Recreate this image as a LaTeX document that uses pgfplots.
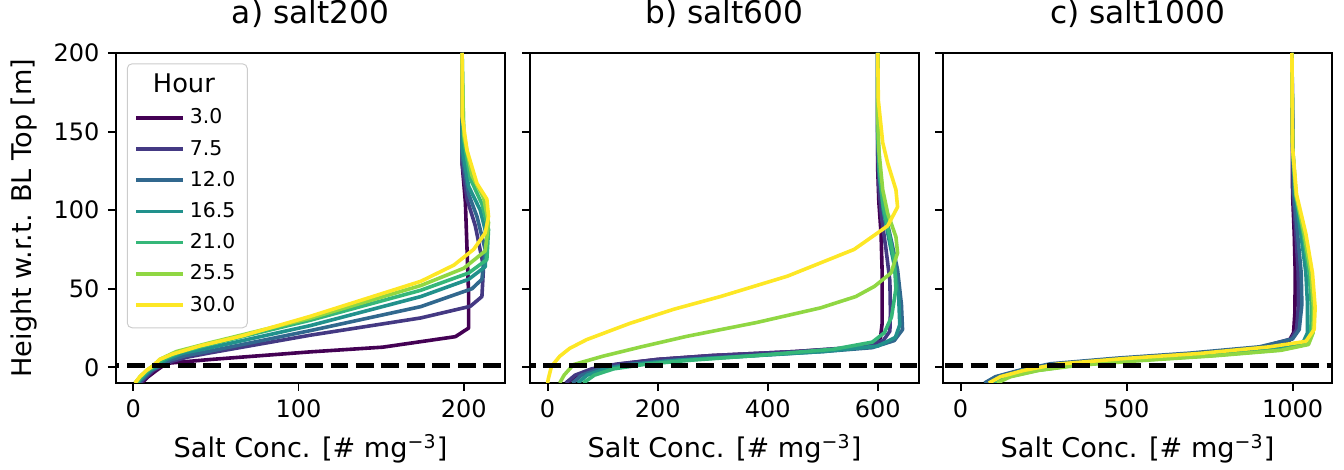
\documentclass[border=0pt]{standalone}
\usepackage{fontspec}
\setmainfont{DejaVu Sans}
\usepackage{pgfplots}
\pgfplotsset{compat=1.18}

% viridis, 7 steps
\definecolor{v0}{HTML}{440154}
\definecolor{v1}{HTML}{443983}
\definecolor{v2}{HTML}{31688E}
\definecolor{v3}{HTML}{21918C}
\definecolor{v4}{HTML}{35B779}
\definecolor{v5}{HTML}{90D743}
\definecolor{v6}{HTML}{FDE725}

\pgfplotsset{
  salt/.style={
    width=162.1pt, height=137.5pt, scale only axis,
    ymin=-10, ymax=200, ytick={0,50,100,150,200},
    tick pos=left, tick align=outside, major tick length=3.33pt,
    axis line style={line width=0.8pt},
    every tick/.style={black, line width=0.8pt},
    tick label style={font=\fontsize{10}{12}\selectfont},
    label style={font=\fontsize{11.3}{13}\selectfont},
    title style={font=\fontsize{13}{15}\selectfont, yshift=1pt},
    /pgf/number format/assume math mode=true,
    /pgf/number format/1000 sep={},
    xlabel={Salt Conc. [\# mg\textsuperscript{−3}]},
    every axis plot/.append style={line width=1.5pt, line join=round},
  },
  bltop/.style={black, line width=2pt, dash pattern=on 7.4pt off 3.2pt, forget plot},
}

\begin{document}
\begin{tikzpicture}
% a) salt200
\begin{axis}[salt, at={(0,0)}, anchor=south west,
    title={a) salt200},
    ylabel={Height w.r.t. BL Top [m]},
    xmin=-10.5, xmax=225, xtick={0,100,200},
    legend cell align=left,
    legend image code/.code={\draw[#1, line width=1.5pt] (0pt,0pt) -- (19.6pt,0pt);},
    legend style={at={(0,1)}, anchor=north west, xshift=4.5pt, yshift=-4.3pt,
      draw=black!20, fill=white, fill opacity=0.8, text opacity=1,
      rounded corners=2pt, font=\fontsize{8.5}{10}\selectfont,
      row sep=0pt, inner sep=3pt,
      nodes={inner sep=2pt, text height=7pt, text depth=2pt}},
  ]
\addlegendimage{empty legend}
\addlegendentry{\hspace*{-15.4pt}\fontsize{10.7}{12}\selectfont Hour}
\addplot[v0] coordinates {(5,-10) (9,-6) (14,-2) (20,2.5) (46,4.9) (107,9.8) (151,12.8) (195,19.5) (203,25) (203,45) (202,75) (201,105) (199,130) (199,200)};
\addlegendentry{3.0}
\addplot[v1] coordinates {(4,-10) (8,-6) (12,-2) (17,1) (24,4) (33,6.5) (46,9.1) (107,20.4) (174,31.4) (204,38.8) (211,45) (212,64) (207,90) (202,107) (199,130) (199,200)};
\addlegendentry{7.5}
\addplot[v2] coordinates {(3,-10) (7,-6) (11,-2) (16,1) (22,4.5) (32,7.5) (46,10.2) (107,23.3) (174,38.6) (205,50) (211,56) (213,75) (208,96) (203,110) (199,135) (199,200)};
\addlegendentry{12.0}
\addplot[v3] coordinates {(2,-10) (6,-6) (10,-2) (15,1) (20,5) (30,9) (46,12.3) (107,26.5) (174,45) (203,56) (213,64) (214,83) (210,100) (203,115) (199,140) (199,200)};
\addlegendentry{16.5}
\addplot[v4] coordinates {(2,-10) (5,-6) (9,-2) (13,1) (18,5) (28,9.5) (46,14.4) (107,29.9) (174,49) (203,60) (214,68.5) (215,87.6) (211,104) (204,120) (200,145) (199,200)};
\addlegendentry{21.0}
\addplot[v5] coordinates {(1,-10) (4,-6) (8,-2) (12,1) (16,5) (26,10) (46,15.5) (107,31.2) (174,52) (200,63) (213,74) (215,92) (212,108) (205,122) (200,148) (199,200)};
\addlegendentry{25.5}
\addplot[v6] coordinates {(1,-10) (4,-6) (8,-2) (12,1) (16,5) (24,8.5) (40,13.5) (66,20) (107,32.4) (174,54.7) (194,65) (206,75) (213,85.5) (215,96) (214,107) (208,117) (202,138) (199,160) (199,200)};
\addlegendentry{30.0}
\addplot[bltop] coordinates {(-50,1) (300,1)};
\end{axis}

% b) salt600
\begin{axis}[salt, at={(172.5pt,0)}, anchor=south west,
    title={b) salt600}, yticklabels={},
    xmin=-32, xmax=675, xtick={0,200,400,600},
  ]
\addplot[v0] coordinates {(35,-10) (55,-5) (85,-1) (130,2) (200,5) (300,7.5) (450,10) (560,12.5) (595,15) (605,19) (608,28) (608,60) (606,85) (602,105) (600,125) (600,200)};
\addplot[v1] coordinates {(33,-10) (50,-5) (80,-1) (125,2) (200,5) (300,7.5) (450,10) (570,13) (610,17) (622,23) (623,35) (622,55) (615,75) (607,95) (602,115) (600,135) (600,200)};
\addplot[v2] coordinates {(45,-10) (62,-5) (95,-1) (150,2) (230,4.5) (350,7) (500,10) (590,12.5) (630,17) (645,24) (643,40) (636,62) (625,80) (612,100) (604,120) (600,145) (600,200)};
\addplot[v3] coordinates {(55,-10) (72,-5) (105,-1) (160,2) (240,4.5) (360,7) (500,10) (600,13.5) (632,19) (640,27) (638,45) (630,65) (620,82) (610,100) (603,122) (600,150) (600,200)};
\addplot[v4] coordinates {(65,-10) (85,-5) (120,-1) (180,2) (260,4.5) (380,7.5) (520,11.5) (590,16) (612,22) (625,32) (633,50) (630,68) (620,86) (610,103) (603,125) (600,150) (600,200)};
\addplot[v5] coordinates {(22,-10) (30,-5) (47,1.7) (100,7) (170,13) (253,19.7) (380,28.5) (496,37.8) (560,45) (594,51.5) (624,60) (636,72.8) (633,83) (618,98) (609,113) (602,138) (600,160) (600,200)};
\addplot[v6] coordinates {(0,-10) (1,-7.8) (7,0.6) (22,7) (40,12) (71,17.6) (150,28) (230,37) (314,45) (436,58) (557,75) (618,90) (636,102) (633,113) (618,130) (609,143) (601,170) (600,200)};
\addplot[bltop] coordinates {(-100,1) (800,1)};
\end{axis}

% c) salt1000
\begin{axis}[salt, at={(344.6pt,0)}, anchor=south west,
    title={c) salt1000}, yticklabels={},
    xmin=-53, xmax=1119, xtick={0,500,1000},
  ]
\addplot[v0] coordinates {(90,-10) (130,-6) (200,-2) (300,1.5) (500,5) (700,8) (900,12) (990,17) (1003,22) (1007,35) (1008,60) (1005,85) (1000,110) (998,200)};
\addplot[v1] coordinates {(75,-10) (110,-6) (180,-2) (280,2) (480,5.5) (700,8.5) (900,12.5) (995,18) (1012,24) (1018,40) (1017,60) (1010,85) (1002,110) (998,200)};
\addplot[v2] coordinates {(72,-10) (105,-6) (175,-2) (270,2.2) (470,5.8) (690,9) (900,13) (1000,18) (1020,24) (1028,40) (1026,60) (1015,85) (1003,112) (998,200)};
\addplot[v3] coordinates {(95,-10) (135,-6) (215,-2) (330,1.5) (520,4.8) (740,8) (940,11.5) (1030,15) (1045,22) (1045,40) (1040,60) (1025,85) (1008,110) (1000,140) (998,200)};
\addplot[v4] coordinates {(105,-10) (145,-6) (230,-2) (350,1.5) (540,4.5) (760,7.5) (960,11) (1040,14.5) (1055,22) (1057,38) (1050,60) (1032,85) (1010,110) (1000,140) (998,200)};
\addplot[v5] coordinates {(110,-10) (150,-6) (235,-2) (355,1.3) (545,4.3) (765,7.3) (965,10.8) (1048,14.5) (1062,22) (1063,38) (1055,60) (1035,85) (1010,110) (1000,140) (998,200)};
\addplot[v6] coordinates {(85,-10) (120,-6) (190,-2) (290,2) (490,5.5) (720,8.8) (930,13) (1040,16.5) (1065,24) (1068,38) (1060,60) (1040,85) (1012,110) (1000,140) (998,200)};
\addplot[bltop] coordinates {(-200,1) (1300,1)};
\end{axis}

\pgfresetboundingbox
\path[use as bounding box] (-48.33pt,-36.25pt) rectangle (511.67pt,159.58pt);
\end{tikzpicture}
\end{document}
